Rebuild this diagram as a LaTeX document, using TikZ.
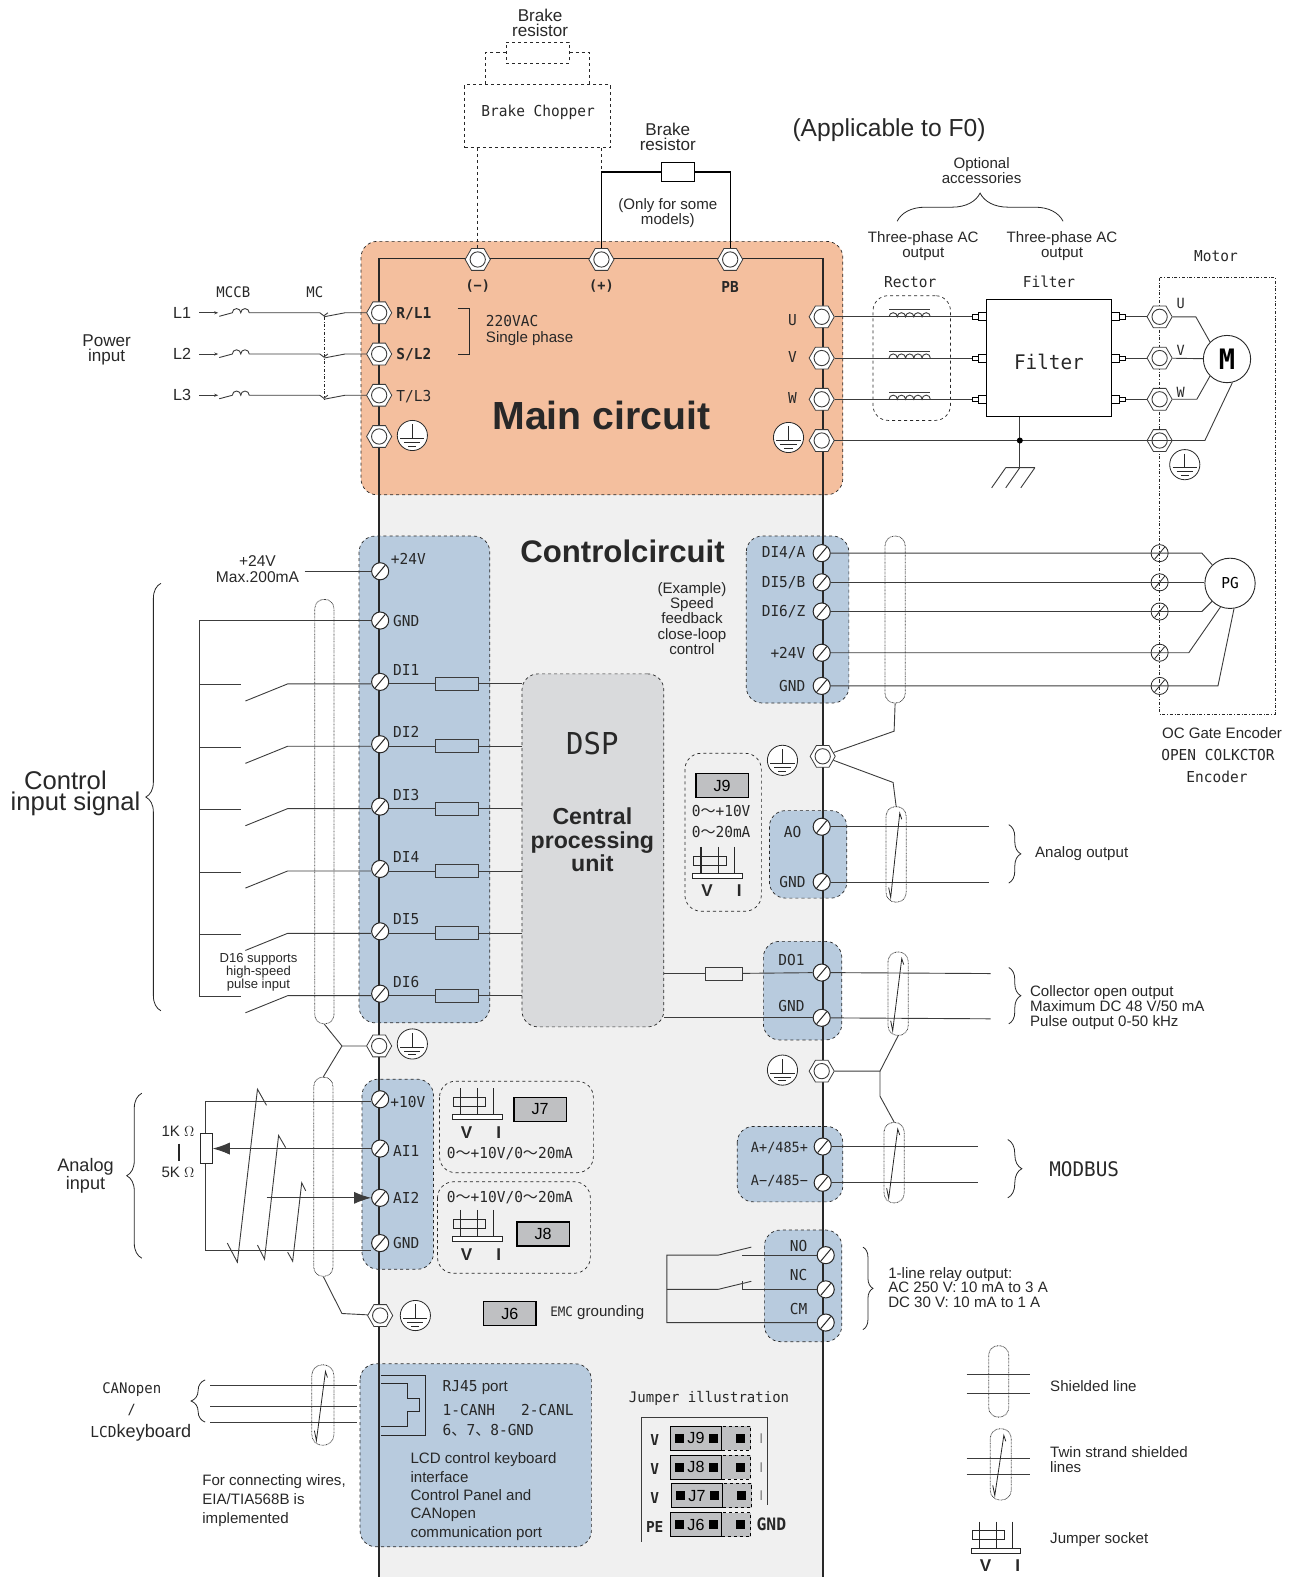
\documentclass[tikz,border=0pt]{standalone}
\usepackage{fontspec}
\setmainfont{Liberation Sans}
\newfontfamily\condfont[FakeStretch=0.96]{DejaVu Sans Mono}
\newfontfamily\cjkfont{Noto Sans CJK SC}
\usetikzlibrary{shapes.geometric,decorations.pathreplacing,arrows.meta}
\definecolor{MainOrange}{RGB}{244,191,158}
\definecolor{CtrlGray}{RGB}{240,240,240}
\definecolor{TermBlue}{RGB}{184,203,222}
\definecolor{DspGray}{RGB}{217,218,220}
\definecolor{JumpGray}{RGB}{191,192,194}
\definecolor{InkGray}{RGB}{40,40,40}
\definecolor{WireGray}{RGB}{60,60,60}
\tikzset{
  lbl/.style n args={2}{font=\fontsize{#1}{#2}\selectfont,text=InkGray,inner sep=0pt,align=center},
  cond/.style n args={2}{font=\condfont\fontsize{#1}{#2}\selectfont,text=InkGray,inner sep=0pt,align=center},
  condb/.style={font=\condfont\bfseries\fontsize{#1}{#1}\selectfont,text=InkGray,inner sep=0pt,align=center},
  wire/.style={draw=WireGray,line width=0.9pt},
  dashbox/.style={draw=InkGray,dashed,line width=0.7pt,rounded corners=16pt},
  railline/.style={draw=InkGray,line width=1.6pt},
  hexterm/.style={regular polygon,regular polygon sides=6,minimum size=25pt,inner sep=0pt,fill=white,draw=WireGray,line width=0.8pt,
    path picture={\draw[line width=0.9pt] (path picture bounding box.center) circle (7.6);}},
  screwterm/.style={circle,minimum size=17pt,inner sep=0pt,fill=white,draw=InkGray,line width=1pt,
    path picture={\draw[line width=1pt] (path picture bounding box.center) ++(-5,6) -- ++(10,-12);}},
  screwopen/.style={circle,minimum size=17pt,inner sep=0pt,draw=InkGray,line width=0.8pt,
    path picture={\draw[line width=0.8pt] (path picture bounding box.center) ++(-5,6) -- ++(10,-12);}},
  gndmark/.style={circle,minimum size=30pt,inner sep=0pt,fill=white,draw=InkGray,line width=0.8pt,
    path picture={\draw[line width=0.8pt] (path picture bounding box.center) ++(0,-11) -- ++(0,14) ++(-12,0) -- ++(24,0) ++(-20,4) -- ++(16,0) ++(-12,3.5) -- ++(8,0);}},
  resbox/.style={draw=WireGray,line width=0.9pt,minimum width=#1,minimum height=13pt,inner sep=0pt},
  jumpbox/.style={draw=black,line width=1.3pt,fill=JumpGray,minimum width=52pt,minimum height=24pt,inner sep=0pt,font=\fontsize{16}{16}\selectfont},
  shld/.style n args={2}{draw=black!75,dash pattern=on 0.7pt off 0.7pt,line width=0.8pt,rounded corners=#1/2-0.5pt,minimum width=#1,minimum height=#2,inner sep=0pt},
  brc/.style={draw=InkGray,line width=0.8pt,decorate,decoration={brace,amplitude=#1}},
  jumpersock/.pic={
    \draw[line width=1.1pt,draw=InkGray] (8,0) -- (8,26) (25,0) -- (25,26) (41,0) -- (41,26);
    \draw[line width=0.7pt,draw=InkGray] (0.5,9) rectangle (33,18);
    \draw[line width=0.7pt,draw=InkGray,fill=white] (-0.5,26) rectangle (49,31);
    \node[lbl={17}{17},font=\bfseries\fontsize{17}{17}\selectfont] (-v) at (14,44) {V};
    \node[lbl={17}{17},font=\bfseries\fontsize{17}{17}\selectfont] (-i) at (46,44) {I};
  }
}
\begin{document}
\begin{tikzpicture}[x=1pt,y=-1pt]
\useasboundingbox (0,0) rectangle (1285,1568);
% backgrounds
\fill[CtrlGray] (377,480) rectangle (818,1568);
\draw[dashbox,fill=MainOrange] (359,240) rectangle (838,492);
\draw[dashbox,fill=TermBlue] (357,533) rectangle (487,1017);
\draw[dashbox,fill=TermBlue] (742,533) rectangle (844,699);
\draw[dashbox,fill=TermBlue] (765,806) rectangle (842,893);
\draw[dashbox,fill=TermBlue] (759,936) rectangle (837,1034);
\draw[dashbox,fill=TermBlue] (360,1073) rectangle (431,1262);
\draw[dashbox,fill=TermBlue] (733,1120) rectangle (838,1195);
\draw[dashbox,fill=TermBlue] (760,1223) rectangle (837,1334);
\draw[dashbox,fill=TermBlue] (358,1356) rectangle (588,1538);
\draw[dashbox] (681,749) rectangle (757,906);
\draw[dashbox] (437,1075) rectangle (590,1166);
\draw[dashbox] (435,1175) rectangle (587,1266);
\node[dashbox,fill=DspGray,minimum width=141pt,minimum height=351pt] (dsp) at (589.5,845.5) {};
\coordinate (raillb) at (377,1568);
\coordinate (railrb) at (818,1568);
\draw[railline] (raillb) -- (377,257) -- (818,257) -- (railrb);
\draw[draw=InkGray,dash dot,line width=0.7pt] (1153,276) rectangle (1268,710);
% brake branch
\node[lbl={17}{15}] (brklbl1) at (537,23) {Brake\\resistor};
\node[draw=InkGray,dashed,line width=0.7pt,minimum width=63pt,minimum height=21pt,inner sep=0pt] (brkres1) at (534.5,52.5) {};
\node[draw=InkGray,dashed,line width=0.7pt,minimum width=145pt,minimum height=63pt,inner sep=0pt] (chopper) at (534.5,115.5) {};
\node[cond={15}{15}] (chopperlbl) at (535,112) {Brake Chopper};
\draw[draw=InkGray,dashed,line width=0.7pt] (brkres1.west) -- (483,52.5) -- (483,84);
\draw[draw=InkGray,dashed,line width=0.7pt] (brkres1.east) -- (586,52.5) -- (586,84);
\node[hexterm] (hexneg) at (475,258) {};
\node[hexterm] (hexpos) at (598,258) {};
\node[hexterm] (hexpb) at (726,258) {};
\draw[draw=InkGray,dashed,line width=0.7pt] (chopper.south -| hexneg) -- (hexneg);
\draw[draw=InkGray,dashed,line width=0.7pt] (chopper.south -| hexpos) -- (598,171);
\node[lbl={17}{15}] (brklbl2) at (664,136) {Brake\\resistor};
\node[draw=black,line width=1pt,minimum width=33pt,minimum height=18pt,inner sep=0pt] (brkres2) at (674.5,171) {};
\draw[line width=1.1pt,draw=black] (brkres2.west) -| (hexpos);
\draw[line width=1.1pt,draw=black] (brkres2.east) -| (hexpb);
\node[lbl={15}{15}] (somemodels) at (664,212) {(Only for some\\models)};
\node[lbl={24.5}{24.5}] (applic) at (884,129) {(Applicable to F0)};
\node[lbl={15}{15}] (optlbl) at (976,170) {Optional\\accessories};
\draw[brc=28pt] (892,220) -- (1057,220);
\node[lbl={15}{15}] (rectout) at (918,245) {Three-phase AC\\output};
\node[lbl={15}{15}] (filtout) at (1056,245) {Three-phase AC\\output};
\node[cond={15}{15}] (rectlbl) at (905,280) {Rector};
\node[cond={15}{15}] (filtlbl) at (1043,280) {Filter};
\node[cond={15}{15}] (motorlbl) at (1209,255) {Motor};
\node[condb=14] (pnlbl) at (475,284) {(−)};
\node[condb=14] (pplbl) at (598,284) {(+)};
\node[condb=15] (pblbl) at (726,285) {PB};
% mains input
\node[lbl={17}{15}] (powerlbl) at (106,348) {Power\\input};
\node[cond={14.5}{14.5}] (mccblbl) at (232,291) {MCCB};
\node[cond={14.5}{14.5}] (mclbl) at (313,291) {MC};
\foreach \n/\y/\t/\s in {1/311/R\slash L1/bold,2/352/S\slash L2/bold,3/393/T\slash L3/normal} {
  \node[lbl={16}{16}] (line\n) at (181,\y) {L\n};
  \node[hexterm] (hexin\n) at (377,\y) {};
  \draw[wire,-{Stealth[length=4pt,width=3pt]}] (line\n.east) ++(8,0) -- (217,\y);
  \draw[wire] (218,\y+3.5) -- (231,\y) arc (180:360:4.2) arc (180:360:4.2) -- (318,\y) -- (322,\y+3) -- (326,\y);
  \draw[wire] (322,\y+4) -- (343,\y) -- (hexin\n);
}
\draw[draw=InkGray,dash dot,line width=0.7pt] (322,315) -- (322,397);
\node[condb=15,anchor=west] (rllbl) at (394,312) {R/L1};
\node[condb=15,anchor=west] (sllbl) at (394,353) {S/L2};
\node[cond={15}{15},anchor=west] (tllbl) at (394,394) {T/L3};
\node[hexterm] (hexgl) at (377,434) {};
\node[gndmark] (gndl) at (410,433) {};
\draw[line width=0.8pt,draw=InkGray] (455,307) -- (467,307) -- (467,352) -- (455,352);
\node[cond={15}{15},anchor=west] (volt1) at (483,319) {220VAC};
\node[lbl={15}{15},anchor=west] (volt2) at (483,337) {Single phase};
\node[lbl={39}{39},font=\bfseries\fontsize{39}{39}\selectfont] (mainlbl) at (598,413) {Main circuit};
% output side
\node[dashbox,minimum width=77pt,minimum height=124pt,rounded corners=15pt] (rector) at (906.5,356) {};
\node[draw=black,line width=0.9pt,minimum width=124pt,minimum height=116pt,inner sep=0pt] (filter) at (1043,356) {};
\node[cond={20}{20}] (filtin) at (1043,360) {Filter};
\foreach \n/\y/\t/\ul/\ml in {1/315/U/3/-13,2/356/V/-1/-8,3/397/W/-1/-7} {
  \node[hexterm] (hexu\n) at (817,\y) {};
  \node[cond={15}{15}] (ulbl\n) at (788,\y+\ul) {\t};
  \node[hexterm] (hexm\n) at (1153,\y) {};
  \node[cond={14}{14}] (mlbl\n) at (1174,\y+\ml) {\t};
  \node[draw=black,line width=0.8pt,minimum size=8pt,inner sep=0pt] (finl\n) at (977,\y) {};
  \node[draw=black,line width=0.6pt,minimum width=6pt,minimum height=4pt,inner sep=0pt] (finm\n) at (970,\y) {};
  \node[draw=black,line width=0.8pt,minimum size=8pt,inner sep=0pt] (foutl\n) at (1109,\y) {};
  \node[draw=black,line width=0.6pt,minimum width=6pt,minimum height=4pt,inner sep=0pt] (foutm\n) at (1116,\y) {};
  \draw[wire] (hexu\n) -- (finm\n);
  \draw[wire] (foutm\n) -- (hexm\n);
  \draw[line width=0.9pt,draw=WireGray] (884,\y) arc (180:360:4.1) arc (180:360:4.1) arc (180:360:4.1) arc (180:360:4.1) arc (180:360:4.1);
  \draw[line width=0.9pt,draw=WireGray] (884,\y-7) -- (925,\y-7);
}
\node[circle,draw=InkGray,line width=0.9pt,fill=white,minimum size=47pt,inner sep=0pt,font=\condfont\bfseries\fontsize{28}{28}\selectfont] (motor) at (1220,357) {M};
\draw[wire] (hexm1) -- (1189,315) -- (motor.135);
\draw[wire] (hexm2) -- (motor);
\draw[wire] (hexm3) -- (1190,397) -- (motor.225);
\node[hexterm] (hexug) at (817,438) {};
\node[hexterm] (hexmg) at (1153,438) {};
\node[gndmark] (gndr) at (784,435) {};
\node[gndmark] (gndm) at (1178,462) {};
\draw[wire] (hexug.center) ++(12,0) -- (1198,438) -- (motor.283);
\coordinate (gndbar) at (1014,465);
\draw[wire] (filter.south -| gndbar) -- (gndbar);
\fill[black] (1014,438) circle (3);
\draw[wire] (1000,465) -- (1029,465) (1000,465) -- ++(-14,20) (1014,465) -- ++(-14,20) (1029,465) -- ++(-14,20);
% control inputs
\node[lbl={31}{31},font=\bfseries\fontsize{31}{31}\selectfont] (ctrllbl) at (619,548) {Controlcircuit};
\node[lbl={15.5}{15.5}] (maxlbl) at (256,566) {+24V\\Max.200mA};
\node[screwterm] (sc24l) at (378,568) {};
\node[cond={15}{15}] (sc24lbl) at (406,556) {+24V};
\coordinate (maxend) at (303,568);
\draw[wire] (maxend) -- (sc24l);
\node[screwterm] (scgl) at (378,617) {};
\node[cond={15}{15}] (scglbl) at (404,617) {GND};
\draw[wire] (scgl) -- (198,617) -- (198,991);
\node[shld={19pt}{422pt}] (shldin) at (322.5,807) {};
\foreach \n/\y/\r in {1/678/680,2/740/742,3/802/804,4/864/866,5/926/928,6/988/990} {
  \node[screwterm] (di\n) at (378,\y) {};
  \node[cond={15}{15}] (dilbl\n) at (404,\y-12) {DI\n};
  \node[resbox=43pt] (dires\n) at (454.5,\r) {};
  \draw[wire] (di\n.east |- dires\n) -- (dires\n);
  \draw[wire] (dires\n) -- (dsp.west |- dires\n);
  \draw[wire] (di\n.west |- dires\n) -- (286,\r) -- (244,\r+17);
  \draw[wire] (198,\r+1) -- (240,\r+1);
}
\node[lbl={13}{13}] (di6note) at (257,967) {D16 supports\\high-speed\\pulse input};
\node[cond={30}{30}] (dsplbl) at (589,739) {DSP};
\node[lbl={23}{23},font=\bfseries\fontsize{23}{23}\selectfont] (cpulbl) at (589,835) {Central\\processing\\unit};
\node[hexterm] (hexig) at (377,1040) {};
\node[gndmark] (gndig) at (410,1038) {};
\draw[brc=15pt] (160,1005) -- (160,580);
\node[lbl={25.5}{21},align=center] (ctrlinput) at (75,789) {Control\hspace*{20pt}\\input signal};
% analog inputs
\node[lbl={18}{15}] (anlbl) at (85,1169) {Analog\\input};
\draw[brc=15pt] (141,1251) -- (141,1087);
\node[screwterm] (ai10) at (378,1093) {};
\node[screwterm] (ai1) at (378,1142) {};
\node[screwterm] (ai2) at (378,1191) {};
\node[screwterm] (aig) at (378,1236) {};
\node[cond={15}{15},anchor=west] (ai10lbl) at (388,1096) {+10V};
\node[cond={15}{15}] (ai1lbl) at (404,1144) {AI1};
\node[cond={15}{15}] (ai2lbl) at (404,1191) {AI2};
\node[cond={15}{15}] (aiglbl) at (404,1236) {GND};
\node[draw=InkGray,line width=0.9pt,minimum width=12pt,minimum height=30pt,inner sep=0pt] (pot) at (205,1142) {};
\coordinate (aitop) at (204,1095);
\coordinate (aibot) at (204,1243);
\draw[wire] (pot.north -| aitop) -- (aitop) -- (ai10.west |- aitop);
\draw[wire] (pot.south -| aibot) -- (aibot) -- (aig.west |- aibot);
\draw[wire,-{Latex[length=17pt,width=12pt]}] (ai1) -- (pot.east);
\coordinate (ai2start) at (265,1191);
\draw[wire,-{Latex[length=17pt,width=12pt]}] (ai2start) -- (ai2);
\node[lbl={15}{15}] (pot1k) at (177,1125) {1K $\Omega$};
\draw[line width=2pt,draw=InkGray] (178,1137) -- (178,1154);
\node[lbl={15}{15}] (pot5k) at (177,1166) {5K $\Omega$};
\draw[wire] (226,1236) -- (236,1255) -- (256,1083) -- (265,1099);
\draw[wire] (256,1238) -- (263,1252) -- (277,1129) -- (284,1141);
\draw[wire] (286,1245) -- (291,1254) -- (300,1176) -- (304,1184);
\node[shld={19pt}{198pt}] (shldai) at (321.5,1170) {};
\coordinate (shldknee1) at (340,1040);
\draw[wire] (shldin.south) -- (shldknee1) -- (hexig);
\draw[wire] (shldai.north) -- (shldknee1);
\node[hexterm] (hexai) at (378,1308) {};
\node[gndmark] (gndai) at (413,1308) {};
\coordinate (shldknee2) at (340,1306);
\draw[wire] (shldai.south) -- (shldknee2) -- (hexai);
% jumper sockets
\pic (sockjg) at (450,1082) {jumpersock};
\pic (sockje) at (450,1203) {jumpersock};
\pic (sockji) at (689,842) {jumpersock};
\pic (sockleg) at (966,1513) {jumpersock};
\node[jumpbox] (j7) at (537,1103) {J7};
\node[jumpbox] (j8) at (540,1227) {J8};
\node[jumpbox] (j9) at (718,781) {J9};
\node[jumpbox] (j6) at (507,1306) {J6};
\node[cond={15}{15}] (j7rng) at (507,1147) {0{\cjkfont ～}+10V/0{\cjkfont ～}20mA};
\node[cond={15}{15}] (j8rng) at (507,1191) {0{\cjkfont ～}+10V/0{\cjkfont ～}20mA};
\node[cond={15}{21}] (j9rng) at (717,817) {0{\cjkfont ～}+10V\\0{\cjkfont ～}20mA};
\node[lbl={15}{15},anchor=west] (emclbl) at (547,1305) {{\condfont\fontsize{13}{13}\selectfont EMC} grounding};
% encoder side
\foreach \n/\y/\t in {1/550/DI4\slash A,2/579/DI5\slash B,3/608/DI6\slash Z,4/649/+24V,5/682/GND} {
  \node[screwterm] (enc\n) at (817,\y) {};
  \node[cond={15}{15},anchor=east] (enclbl\n) at (801,\y) {\t};
  \node[screwopen] (encr\n) at (1153,\y) {};
}
\node[shld={20pt}{166pt}] (shldenc) at (890,616) {};
\node[circle,draw=InkGray,line width=0.9pt,minimum size=50pt,inner sep=0pt,font=\condfont\fontsize{15}{15}\selectfont] (pgen) at (1223,580) {PG};
\draw[wire] (enc1) -- (1195,550) -- (pgen.134);
\draw[wire] (enc2) -- (pgen.west |- enc2);
\draw[wire] (enc3) -- (1195,608) -- (pgen.225);
\draw[wire] (enc4) -- (1182,649) -- (pgen.248);
\draw[wire] (enc5) -- (1211,682) -- (pgen.279);
\node[lbl={15}{15}] (enctype1) at (1215,729) {OC Gate Encoder};
\node[cond={15}{15}] (enctype2) at (1211,751) {OPEN COLKCTOR};
\node[cond={15}{15}] (enctype3) at (1210,772) {Encoder};
\node[lbl={15}{15}] (example) at (688,615) {(Example)\\Speed\\feedback\\close-loop\\control};
% analog and collector outputs
\node[hexterm] (hexao) at (818,752) {};
\node[gndmark] (gndao) at (778,756) {};
\node[shld={20pt}{95pt}] (shldao) at (891,849.5) {};
\draw[wire] (shldenc.south) -- (889,727) -- (hexao);
\draw[wire] (hexao) -- (888,778) -- (shldao.north);
\foreach \n/\y/\t/\ex/\off in {1/822/AO/983/5,2/877/GND/983/0} {
  \node[screwterm] (ao\n) at (817,\y) {};
  \node[cond={15}{15}] (aolbl\n) at (788,\y+\off) {\t};
  \coordinate (aoend\n) at (\ex,\y);
  \draw[wire] (ao\n) -- (aoend\n);
}
\draw[brc=12pt] (1003,820) -- (1003,878);
\node[lbl={15}{15},anchor=west] (aotxt) at (1029,849) {Analog output};
\node[screwterm] (do1) at (817,967) {};
\node[screwterm] (do2) at (817,1012) {};
\node[cond={15}{15}] (dolbl1) at (787,955) {DO1};
\node[cond={15}{15}] (dolbl2) at (787,1000) {GND};
\node[resbox=37pt] (dores) at (719.5,968) {};
\node[shld={20pt}{83pt}] (shlddo) at (893,988) {};
\draw[wire] (dsp.east |- dores) -- (dores);
\draw[wire] (dores) -- (do1);
\draw[wire] (dsp.east |- do2) -- (do2);
\coordinate (doend1) at (985,968);
\coordinate (doend2) at (985,1013);
\draw[wire] (do1) -- (doend1);
\draw[wire] (do2) -- (doend2);
\draw[brc=12pt] (1003,962) -- (1003,1018);
\node[lbl={15}{15},anchor=west,align=left] (dotxt) at (1024,1002) {Collector open output\\Maximum DC 48 V/50 mA\\Pulse output 0-50 kHz};
% modbus
\node[hexterm] (hexmb) at (817,1065) {};
\node[gndmark] (gndmb) at (778,1064) {};
\node[shld={20pt}{80pt}] (shldmb) at (889,1156) {};
\coordinate (mbknee) at (875,1065);
\draw[wire] (hexmb) -- (mbknee) -- (shlddo.south);
\draw[wire] (mbknee) -- (875,1090) -- (shldmb.north);
\node[screwterm] (mb1) at (818,1140) {};
\node[screwterm] (mb2) at (818,1176) {};
\node[cond={14}{14}] (mblbl1) at (775,1141) {A+/485+};
\node[cond={14}{14}] (mblbl2) at (775,1174) {A−/485−};
\coordinate (mbend1) at (972,1140);
\coordinate (mbend2) at (972,1176);
\draw[wire] (mb1) -- (mbend1);
\draw[wire] (mb2) -- (mbend2);
\draw[brc=14pt] (1002,1133) -- (1002,1191);
\node[cond={20}{20}] (mbtxt) at (1078,1162) {MODBUS};
% relay
\node[screwterm] (rno) at (821,1248) {};
\node[screwterm] (rnc) at (821,1282) {};
\node[screwterm] (rcm) at (821,1315) {};
\node[cond={15}{15}] (rnolbl) at (794,1239) {NO};
\node[cond={15}{15}] (rnclbl) at (794,1268) {NC};
\node[cond={15}{15}] (rcmlbl) at (794,1302) {CM};
\coordinate (relayl) at (663,1315);
\draw[wire] (rcm) -- (relayl) -- (663,1248) -- (714,1248) -- (747,1240);
\draw[wire] (663,1282) -- (714,1282) -- (747,1274);
\draw[wire] (rno) -- (738,1248);
\draw[wire] (rnc) -- (738,1282) -- (738,1274);
\draw[brc=10pt] (858,1240) -- (858,1322);
\node[lbl={15}{14.5},anchor=west,align=left] (relaytxt) at (883,1280) {1-line relay output:\\AC 250 V: 10 mA to 3 A\\DC 30 V: 10 mA to 1 A};
% keyboard port
\draw[line width=0.9pt,draw=InkGray] (379,1368) -- (423,1368) -- (423,1427) -- (379,1427);
\draw[line width=0.9pt,draw=InkGray] (379,1376) -- (405,1376) -- (405,1390) -- (417,1390) -- (417,1403) -- (405,1403) -- (405,1418) -- (379,1418);
\node[lbl={15}{15},anchor=west] (rjlbl) at (440,1380) {{\condfont RJ45} port};
\node[cond={15}{15},anchor=west] (rjpin1) at (440,1402) {1-CANH};
\node[cond={15}{15},anchor=west] (rjpin2) at (518,1402) {2-CANL};
\node[cond={15}{15},anchor=west] (rjpin3) at (440,1422) {6{\cjkfont 、}7{\cjkfont 、}8-GND};
\node[lbl={15}{18.3},anchor=west,align=left] (lcdtxt) at (408,1488) {LCD control keyboard\\interface\\Control Panel and\\CANopen\\communication port};
\node[shld={22pt}{80pt}] (shldcan) at (321,1397) {};
\foreach \n/\y in {1/1378,2/1398,3/1414} {
  \coordinate (canl\n) at (209,\y);
  \coordinate (canr\n) at (355,\y);
  \draw[wire] (canl\n) -- (canr\n);
}
\draw[brc=14pt] (204,1414) -- (204,1372);
\node[cond={14.5}{14.5}] (canlbl) at (131,1382) {CANopen};
\node[cond={14}{14}] (canslash) at (131,1402) {/};
\node[lbl={18}{18}] (canlcd) at (140,1425) {{\condfont\fontsize{15}{15}\selectfont LCD}keyboard};
\node[lbl={15}{19},anchor=west,align=left] (wiringtxt) at (201,1492) {For connecting wires,\\EIA/TIA568B is\\implemented};
% jumper illustration
\node[cond={14.5}{14.5}] (jilbl) at (705,1390) {Jumper illustration};
\draw[line width=0.8pt,draw=WireGray] (638,1533) -- (638,1409) -- (763,1409) -- (763,1496);
\foreach \n/\jx/\jy/\t in {9/0/1418/V,8/0/1447/V,7/1/1475/V,6/0/1504/PE} {
  \node[draw=black,dashed,line width=1.2pt,fill=JumpGray,minimum width=29pt,minimum height=24pt,inner sep=0pt] (jd\n) at (732+\jx,\jy+12) {};
  \node[jumpbox,minimum width=51pt] (js\n) at (692+\jx,\jy+12) {J\n};
  \fill[black] (676+\jx-4.5,\jy+7.5) rectangle ++(9,9);
  \fill[black] (709+\jx-4.5,\jy+7.5) rectangle ++(9,9);
  \fill[black] (736+\jx-4.5,\jy+7.5) rectangle ++(9,9);
  \node[condb=15] (jl\n) at (651,\jy+14) {\t};
}
\foreach \n/\jy in {9/1418,8/1447,7/1475} {
  \node[lbl={14}{14},font=\rmfamily\fontsize{14}{14}\selectfont,text=gray] (ji\n) at (757,\jy+12) {I};
}
\node[condb=17] (jgnd) at (767,1516) {GND};
% legend
\node[shld={20pt}{71pt}] (shldlg1) at (993,1373.5) {};
\coordinate (lg1l) at (961,1367);
\coordinate (lg1r) at (1024,1367);
\coordinate (lg2l) at (961,1385);
\coordinate (lg2r) at (1024,1385);
\draw[wire] (lg1l) -- (lg1r);
\draw[wire] (lg2l) -- (lg2r);
\node[lbl={15}{15},anchor=west] (lgtxt1) at (1044,1378) {Shielded line};
\node[shld={21pt}{71pt}] (shldlg2) at (995,1456) {};
\coordinate (lg3l) at (961,1450);
\coordinate (lg3r) at (1024,1450);
\coordinate (lg4l) at (961,1466);
\coordinate (lg4r) at (1024,1466);
\draw[wire] (lg3l) -- (lg3r);
\draw[wire] (lg4l) -- (lg4r);
\node[lbl={15}{15},anchor=west,align=left] (lgtxt2) at (1044,1451) {Twin strand shielded\\lines};
\node[lbl={15}{15},anchor=west] (lgtxt3) at (1044,1531) {Jumper socket};
\foreach \s in {shldao,shlddo,shldmb,shldcan,shldlg2} {
  \draw[line width=0.8pt,draw=InkGray] ([xshift=3pt,yshift=15pt]\s.south west) -- ([xshift=5pt,yshift=5pt]\s.south west) -- ([xshift=14pt,yshift=-7pt]\s.north west) -- ([xshift=16pt,yshift=-13pt]\s.north west);
}
\end{tikzpicture}
\end{document}
